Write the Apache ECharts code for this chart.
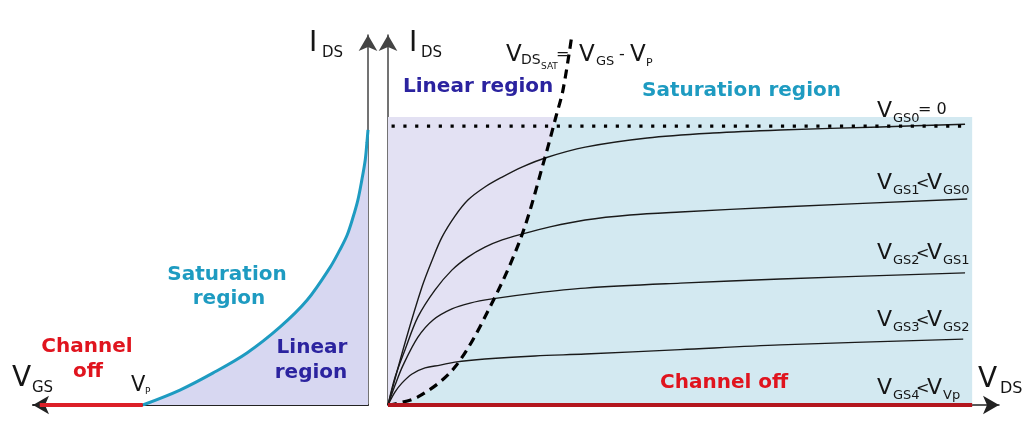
<!DOCTYPE html>
<html><head><meta charset="utf-8">
<script src="https://cdn.jsdelivr.net/npm/echarts@6/dist/echarts.min.js"></script>
<style>html,body{margin:0;padding:0;background:#fff}#c{width:1023px;height:434px}</style>
</head><body><div id="c"></div>
<script>
// ---- Data ----
// Left panel: transfer characteristic I_DS vs V_GS (V_P = -4)
const transferCurve = [[-4,0],[-3.34,0.54],[-2.75,1.16],[-2.15,1.88],[-1.56,2.82],[-1.08,3.79],[-0.67,4.98],[-0.50,5.60],[-0.37,6.14],[-0.27,6.75],[-0.18,7.40],[-0.11,8.12],[-0.05,8.84],[-0.02,9.46],[0,9.93]];
const channelOffVgs = [[-5.83,0],[-4,0]];
// Right panel: output characteristics I_DS vs V_DS
const vgs0 = [[0,0],[0.55,2.24],[1.10,4.26],[1.43,5.23],[1.75,6.06],[2.17,6.82],[2.59,7.40],[3.14,7.87],[3.70,8.23],[4.34,8.59],[5.09,8.92],[6.39,9.31],[8.40,9.64],[10.53,9.82],[12.71,9.93],[15.95,10.04],[18.70,10.14]];
const vgs1 = [[0,0],[0.23,1.01],[0.55,1.99],[0.97,3.18],[1.52,4.15],[2.07,4.87],[2.59,5.34],[3.14,5.70],[3.70,5.96],[4.34,6.17],[5.25,6.43],[6.39,6.68],[7.84,6.86],[9.47,6.97],[12.71,7.15],[18.77,7.44]];
const vgs2 = [[0,0],[0.23,0.72],[0.49,1.44],[0.97,2.45],[1.46,3.07],[2.07,3.47],[2.66,3.68],[3.37,3.83],[4.76,4.04],[6.39,4.22],[9.47,4.40],[12.71,4.55],[18.70,4.77]];
const vgs3 = [[0,0],[0.23,0.47],[0.45,0.79],[0.78,1.12],[1.20,1.34],[1.69,1.44],[2.17,1.55],[3.14,1.66],[4.76,1.77],[6.39,1.84],[9.47,2.00],[12.71,2.17],[18.64,2.38]];
const vgs4 = [[0,0],[18.93,0]];
const vdsSat = [[0,0],[0.97,0.29],[2.17,1.37],[3.37,3.68],[4.34,6.14],[5.09,8.95],[5.44,10.4],[5.67,11.37],[5.96,13.36]];
const idss = 10.07;
const shadeTop = 10.4;
const shadeRight = 18.93;
const idssLine = [[-0.65, idss],[18.7, idss]];

// ---- Text labels ----
const teal = '#1e9bc1', navy = '#2b239f', red = '#e0141e', ink = '#151515';
const texts = [
  // left panel
  {x:309,y:52,t:'I',s:28,c:ink},
  {x:322,y:58,t:'DS',s:15,c:ink},
  {x:12,y:387,t:'V',s:28,c:ink},
  {x:32,y:393,t:'GS',s:15,c:ink},
  {x:131,y:392,t:'V',s:21,c:ink},
  {x:145,y:394,t:'P',s:9,c:ink},
  {x:227,y:281,t:'Saturation',s:20,c:teal,b:1,a:'center'},
  {x:229,y:305,t:'region',s:20,c:teal,b:1,a:'center'},
  {x:312,y:354,t:'Linear',s:20,c:navy,b:1,a:'center'},
  {x:311,y:379,t:'region',s:20,c:navy,b:1,a:'center'},
  {x:87,y:353,t:'Channel',s:20,c:red,b:1,a:'center'},
  {x:88,y:378,t:'off',s:20,c:red,b:1,a:'center'},
  // right panel
  {x:409,y:52,t:'I',s:28,c:ink},
  {x:421,y:58,t:'DS',s:15,c:ink},
  {x:403,y:93,t:'Linear region',s:20,c:navy,b:1},
  {x:642,y:97,t:'Saturation region',s:20,c:teal,b:1},
  {x:660,y:389,t:'Channel off',s:20,c:red,b:1},
  {x:506,y:62,t:'V',s:23,c:ink},
  {x:521,y:65,t:'DS',s:14,c:ink},
  {x:541,y:69,t:'SAT',s:9,c:ink},
  {x:556,y:60,t:'=',s:16,c:ink},
  {x:579,y:62,t:'V',s:23,c:ink},
  {x:596,y:66,t:'GS',s:13,c:ink},
  {x:619,y:60,t:'-',s:16,c:ink},
  {x:630,y:62,t:'V',s:23,c:ink},
  {x:646,y:66,t:'P',s:11,c:ink},
  {x:978,y:388,t:'V',s:28,c:ink},
  {x:1000,y:394,t:'DS',s:16,c:ink},
  {x:877,y:118,t:'V',s:22,c:ink},{x:893,y:123,t:'GS0',s:13,c:ink},{x:918,y:115,t:'= 0',s:16,c:ink},
  {x:877,y:190,t:'V',s:22,c:ink},{x:893,y:195,t:'GS1',s:13,c:ink},{x:916,y:189,t:'<',s:16,c:ink},{x:927,y:190,t:'V',s:22,c:ink},{x:943,y:195,t:'GS0',s:13,c:ink},
  {x:877,y:260,t:'V',s:22,c:ink},{x:893,y:265,t:'GS2',s:13,c:ink},{x:916,y:259,t:'<',s:16,c:ink},{x:927,y:260,t:'V',s:22,c:ink},{x:943,y:265,t:'GS1',s:13,c:ink},
  {x:877,y:327,t:'V',s:22,c:ink},{x:893,y:332,t:'GS3',s:13,c:ink},{x:916,y:326,t:'<',s:16,c:ink},{x:927,y:327,t:'V',s:22,c:ink},{x:943,y:332,t:'GS2',s:13,c:ink},
  {x:877,y:395,t:'V',s:22,c:ink},{x:893,y:400,t:'GS4',s:13,c:ink},{x:916,y:394,t:'<',s:16,c:ink},{x:927,y:395,t:'V',s:22,c:ink},{x:943,y:400,t:'Vp',s:13,c:ink}
];

const chart = echarts.init(document.getElementById('c'), null, {renderer:'canvas'});
const hidden = {axisTick:{show:false},axisLabel:{show:false},splitLine:{show:false}};
const arrowSize = [14,16];
const thinLine = (d, color, width, extra) => Object.assign({
  type:'line', data:d, symbol:'none', smooth:0.33,
  lineStyle:{color:color,width:width}, silent:true, animation:false
}, extra||{});

const graphics = texts.map(o => ({
  type:'text', silent:true, z:100,
  style:{
    text:o.t, x:o.x, y:o.y - 0.3*o.s,
    font:(o.b?'bold ':'') + o.s + 'px "DejaVu Sans"',
    fill:o.c, align:o.a||'left', verticalAlign:'middle'
  }
}));

chart.setOption({
  animation:false,
  backgroundColor:'#ffffff',
  grid:[
    {left:33, right:655, top:35, bottom:29},
    {left:388, right:24, top:35, bottom:29}
  ],
  xAxis:[
    Object.assign({type:'value', gridIndex:0, min:-5.95, max:0,
      axisLine:{show:true,onZero:false,symbol:['arrow','none'],symbolSize:arrowSize,lineStyle:{color:'#222',width:2}}}, hidden),
    Object.assign({type:'value', gridIndex:1, min:0, max:19.8,
      axisLine:{show:true,onZero:false,symbol:['none','arrow'],symbolSize:arrowSize,lineStyle:{color:'#222',width:1.5}}}, hidden)
  ],
  yAxis:[
    Object.assign({type:'value', gridIndex:0, min:0, max:13.36, position:'right',
      axisLine:{show:true,onZero:false,symbol:['none','arrow'],symbolSize:arrowSize,lineStyle:{color:'#444',width:1.5}}}, hidden),
    Object.assign({type:'value', gridIndex:1, min:0, max:13.36, position:'left',
      axisLine:{show:true,onZero:false,symbol:['none','arrow'],symbolSize:arrowSize,lineStyle:{color:'#444',width:1.5}}}, hidden)
  ],
  series:[
    thinLine(transferCurve, teal, 3, {xAxisIndex:0,yAxisIndex:0, z:3, areaStyle:{color:'#d7d7f1',opacity:1}}),
    thinLine(channelOffVgs, '#dc1f28', 4, {xAxisIndex:0,yAxisIndex:0, z:4, smooth:false}),
    thinLine([[0,shadeTop],[shadeRight,shadeTop]], '#d3e9f1', 0, {xAxisIndex:1,yAxisIndex:1, z:1, smooth:false,
      lineStyle:{width:0,opacity:0}, areaStyle:{color:'#d3e9f1',opacity:1}}),
    thinLine(vdsSat.filter(p => p[1] <= shadeTop), '#e3e1f3', 0, {xAxisIndex:1,yAxisIndex:1, z:1,
      lineStyle:{width:0,opacity:0}, areaStyle:{color:'#e3e1f3',opacity:1,origin:shadeTop}}),
    thinLine(vgs0, '#1a1a1a', 1.4, {xAxisIndex:1,yAxisIndex:1, z:3}),
    thinLine(vgs1, '#1a1a1a', 1.4, {xAxisIndex:1,yAxisIndex:1, z:3}),
    thinLine(vgs2, '#1a1a1a', 1.4, {xAxisIndex:1,yAxisIndex:1, z:3}),
    thinLine(vgs3, '#1a1a1a', 1.4, {xAxisIndex:1,yAxisIndex:1, z:3}),
    thinLine(vdsSat, '#000', 3.2, {xAxisIndex:1,yAxisIndex:1, z:5, lineStyle:{color:'#000',width:3.2,type:[9,6]}}),
    thinLine(idssLine, '#000', 3.2, {xAxisIndex:1,yAxisIndex:1, z:5, smooth:false, clip:false,
      lineStyle:{color:'#000',width:3.2,type:[3.2,8.6],cap:'butt'}}),
    thinLine(vgs4, '#b3161e', 4, {xAxisIndex:1,yAxisIndex:1, z:6, smooth:false})
  ],
  graphic:graphics
});
</script>
</body></html>
